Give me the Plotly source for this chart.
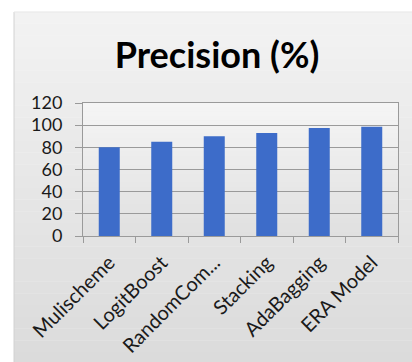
import plotly.graph_objects as go

categories = ["Mulischeme", "LogitBoost", "RandomCom...", "Stacking", "AdaBagging", "ERA Model"]
precision = [80, 85, 90, 93, 97.5, 98.5]
y_ticks = [0, 20, 40, 60, 80, 100, 120]

W, H = 412, 362
L, R, T, B = 83, 14, 103, 126
PW, PH = W - L - R, H - T - B

def px_to_xpaper(px):
    return (px - L) / PW

def py_to_ypaper(py):
    return (H - B - py) / PH

fig = go.Figure()
fig.add_trace(go.Bar(
    x=categories, y=precision,
    marker=dict(color="#3d6cc9", line=dict(width=0)),
    width=0.4,
))

shapes = []
n = 30
top_px, bot_px = 12, H + 2
for i in range(n):
    y_top = top_px + (bot_px - top_px) * i / n
    y_bot = top_px + (bot_px - top_px) * (i + 1) / n
    c = int(0xf3 - (0xf3 - 0xdb) * (i + 0.5) / n)
    shapes.append(dict(type="rect", xref="paper", yref="paper",
                       x0=px_to_xpaper(14), x1=px_to_xpaper(W + 5),
                       y0=py_to_ypaper(y_bot), y1=py_to_ypaper(y_top) + 0.002,
                       fillcolor=f"rgb({c},{c},{c})", line=dict(width=0), layer="below"))
for i in range(n):
    c = int(0xf6 - (0xf6 - 0xe0) * (i + 0.5) / n)
    shapes.append(dict(type="rect", xref="paper", yref="paper", x0=0, x1=1,
                       y0=1 - (i + 1) / n, y1=1 - i / n + 0.002,
                       fillcolor=f"rgb({c},{c},{c})", line=dict(width=0), layer="below"))
shapes.append(dict(type="line", xref="paper", yref="paper",
                   x0=px_to_xpaper(14), x1=px_to_xpaper(14),
                   y0=py_to_ypaper(H + 5), y1=py_to_ypaper(12),
                   line=dict(color="#d2d2d2", width=1), layer="below"))
shapes.append(dict(type="line", xref="paper", yref="paper",
                   x0=px_to_xpaper(14), x1=px_to_xpaper(W + 5),
                   y0=py_to_ypaper(12), y1=py_to_ypaper(12),
                   line=dict(color="#e8e8e8", width=1), layer="below"))

fig.update_layout(
    width=W, height=H,
    margin=dict(l=L, r=R, t=T, b=B),
    paper_bgcolor="white",
    plot_bgcolor="rgba(0,0,0,0)",
    showlegend=False,
    bargap=0.6,
    shapes=shapes,
    font=dict(family="Lato", size=18, color="#1a1a1a"),
    title=dict(text="<b>Precision (%)</b>", x=217 / W, xanchor="center",
               y=1 - 55 / H, yanchor="middle",
               font=dict(family="Lato", size=36, color="#000000")),
)
fig.update_yaxes(
    range=[0, 120], tickvals=y_ticks, showgrid=True, gridcolor="#9a9a9a", gridwidth=1,
    showline=True, linecolor="#9a9a9a", linewidth=1, mirror=True,
    ticks="outside", ticklen=7, tickcolor="#9a9a9a", zeroline=False,
    ticklabelstandoff=9, automargin=False,
    tickfont=dict(family="Lato", size=18, color="#1a1a1a"),
)
fig.update_xaxes(
    showline=True, linecolor="#9a9a9a", linewidth=1, mirror=True,
    ticks="outside", tickson="boundaries", ticklen=6, tickcolor="#9a9a9a",
    ticklabelstandoff=6, automargin=False,
    tickangle=-45, tickfont=dict(family="Lato", size=20, color="#1a1a1a"),
)

fig.write_html("out.html")
